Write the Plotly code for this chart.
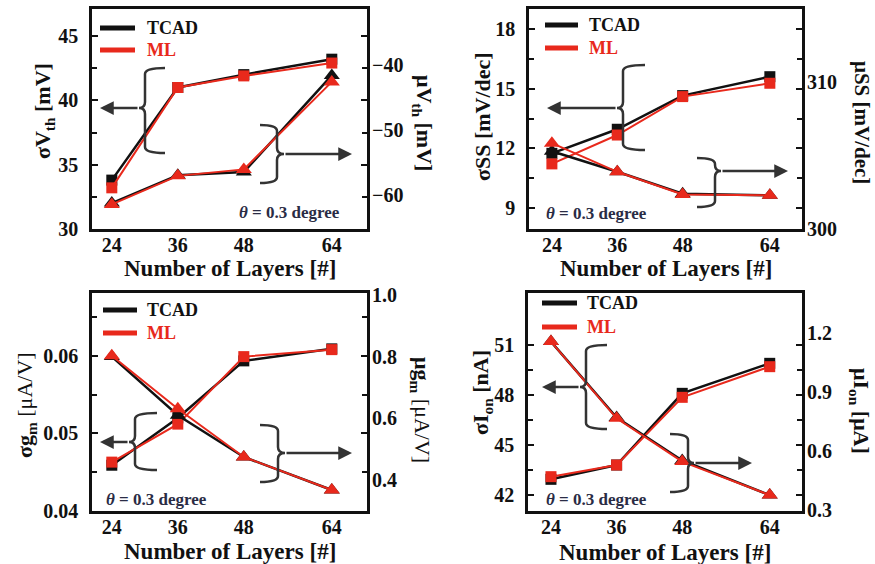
import plotly.graph_objects as go

W, H = 875, 564

# ---------------- data ----------------
layers = [24, 36, 48, 64]

# threshold voltage
vth_sigma_tcad = [33.8, 41.0, 42.0, 43.2]
vth_sigma_ml = [33.2, 41.0, 41.9, 42.9]
vth_mu_tcad = [-61.3, -57.0, -56.5, -41.6]
vth_mu_ml = [-61.5, -57.1, -56.1, -42.6]

# subthreshold swing
ss_sigma_tcad = [11.75, 12.96, 14.65, 15.6]
ss_sigma_ml = [11.22, 12.67, 14.6, 15.27]
ss_mu_tcad = [305.3, 303.9, 302.4, 302.3]
ss_mu_ml = [305.85, 303.9, 302.35, 302.3]

# transconductance
gm_sigma_tcad = [0.0459, 0.0520, 0.05935, 0.0609]
gm_sigma_ml = [0.0463, 0.0512, 0.0599, 0.0608]
gm_mu_tcad = [0.800, 0.610, 0.475, 0.368]
gm_mu_ml = [0.803, 0.631, 0.475, 0.368]

# on-current
ion_sigma_tcad = [42.94, 43.8, 48.1, 49.9]
ion_sigma_ml = [43.1, 43.8, 47.86, 49.7]
ion_mu_tcad = [1.156, 0.770, 0.552, 0.376]
ion_mu_ml = [1.156, 0.766, 0.546, 0.376]

x_ticks = [24, 36, 48, 64]

# tick values for the sigma (left) and mu (right) axes
vth_sigma_ticks = [30, 35, 40, 45]
vth_sigma_minor = [32.5, 37.5, 42.5]
vth_mu_ticks = [-60, -50, -40]
ss_sigma_ticks = [9, 12, 15, 18]
ss_sigma_minor = [10.5, 13.5, 16.5]
ss_mu_ticks = [300, 310]
gm_sigma_ticks = [0.04, 0.05, 0.06]
gm_sigma_minor = [0.045, 0.055, 0.065]
gm_mu_ticks = [0.4, 0.6, 0.8, 1.0]
ion_sigma_ticks = [42, 45, 48, 51]
ion_sigma_minor = [43.5, 46.5, 49.5]
ion_mu_ticks = [0.3, 0.6, 0.9, 1.2]

# ---------------- style ----------------
FONT = "Liberation Serif, Times New Roman, serif"
RED = "#e8291c"
BLACK = "#111111"
DARK = "#333333"
THETA_COLOR = "#2a2c45"


def px(x):
    return x / W


def py(y):
    return 1 - y / H


panels = [
    dict(box=(92, 9, 367, 229), xr=[20.4, 70.4],
         yl=[30, 47.1], yl_ticks=vth_sigma_ticks, yl_minor=vth_sigma_minor, yl_fmt="d",
         yr=[-65.3, -31.35], yr_vals=vth_mu_ticks, yr_fmt="d",
         s_tcad=vth_sigma_tcad, s_ml=vth_sigma_ml, m_tcad=vth_mu_tcad, m_ml=vth_mu_ml,
         ltitle="<b>σV<sub>th</sub> [mV]</b>", lpos=(44, 111),
         rtitle="<b>μV<sub>th</sub> [mV]</b>", rpos=(423, 123), rsize=22,
         xtitle_y=268, theta=(289, 212),
         legend=(100, 135, 28, 50, 145),
         braces=[("left", 145, 68, 153, 108, 165, 139, 100),
                 ("right", 277, 125, 183, 154, 260, 284, 352)]),
    dict(box=(529, 9, 802, 229), xr=[19.8, 69.9],
         yl=[7.95, 19.0], yl_ticks=ss_sigma_ticks, yl_minor=ss_sigma_minor, yl_fmt="d",
         yr=[300, 315.0], yr_vals=ss_mu_ticks, yr_fmt="d",
         s_tcad=ss_sigma_tcad, s_ml=ss_sigma_ml, m_tcad=ss_mu_tcad, m_ml=ss_mu_ml,
         ltitle="<b>σSS [mV/dec]</b>", lpos=(483, 117),
         rtitle="<b>μSS [mV/dec]</b>", rpos=(862, 122), rsize=21,
         xtitle_y=268, theta=(596, 214),
         legend=(545, 578, 25, 48, 587),
         braces=[("left", 623, 65, 150, 108, 645, 617, 547),
                 ("right", 715, 158, 207, 171, 697, 721, 788)]),
    dict(box=(92, 293, 367, 511), xr=[20.4, 70.4],
         yl=[0.04, 0.0681], yl_ticks=gm_sigma_ticks, yl_minor=gm_sigma_minor, yl_fmt=".2f",
         yr=[0.3, 1.006], yr_vals=gm_mu_ticks, yr_fmt=".1f",
         s_tcad=gm_sigma_tcad, s_ml=gm_sigma_ml, m_tcad=gm_mu_tcad, m_ml=gm_mu_ml,
         ltitle="<b>σg<sub>m</sub></b> [μA/V]", lpos=(26, 405),
         rtitle="<b>μg<sub>m</sub></b> [μA/V]", rpos=(421, 410), rsize=22,
         xtitle_y=551, theta=(156, 499),
         legend=(103, 137, 310, 333, 145),
         braces=[("left", 135, 413, 470, 442, 157, 129, 100),
                 ("right", 278, 425, 482, 453, 260, 285, 352)]),
    dict(box=(528, 293, 802, 511), xr=[19.8, 69.9],
         yl=[41.04, 54.12], yl_ticks=ion_sigma_ticks, yl_minor=ion_sigma_minor, yl_fmt="d",
         yr=[0.295, 1.403], yr_vals=ion_mu_ticks, yr_fmt=".1f",
         s_tcad=ion_sigma_tcad, s_ml=ion_sigma_ml, m_tcad=ion_mu_tcad, m_ml=ion_mu_ml,
         ltitle="<b>σI<sub>on</sub> [nA]</b>", lpos=(482, 392),
         rtitle="<b>μI<sub>on</sub> [μA]</b>", rpos=(860, 411), rsize=22,
         xtitle_y=552, theta=(596, 499),
         legend=(542, 577, 303, 327, 585),
         braces=[("left", 586, 345, 429, 387, 607, 580, 542),
                 ("right", 688, 434, 492, 463, 670, 694, 752)]),
]


def brace_path(kind, xv, yt, yb, ym, xs, xp, r=6):
    """Curly bracket in paper coordinates, built from pixel positions."""
    pts = [
        f"M{px(xs)},{py(yt)}",
        f"Q{px(xv)},{py(yt)} {px(xv)},{py(yt + r)}",
        f"L{px(xv)},{py(ym - r)}",
        f"Q{px(xv)},{py(ym)} {px(xp)},{py(ym)}",
        f"Q{px(xv)},{py(ym)} {px(xv)},{py(ym + r)}",
        f"L{px(xv)},{py(yb - r)}",
        f"Q{px(xv)},{py(yb)} {px(xs)},{py(yb)}",
    ]
    return " ".join(pts)


tickfont = dict(family=FONT, size=20, color=BLACK, weight="bold")

fig = go.Figure()
layout = dict(
    template="none",
    width=W, height=H, autosize=False,
    margin=dict(l=0, r=0, t=0, b=0, pad=0),
    paper_bgcolor="white", plot_bgcolor="white",
    showlegend=False,
    font=dict(family=FONT, size=20, color=BLACK, weight="bold"),
)
shapes = []
annotations = []

for i, p in enumerate(panels, start=1):
    x0, y0, x1, y1 = p["box"]
    xid = "x" if i == 1 else f"x{i}"
    ylid = "y" if i == 1 else f"y{i}"
    yrid = f"y{i + 4}"
    xkey = "xaxis" if i == 1 else f"xaxis{i}"
    ylkey = "yaxis" if i == 1 else f"yaxis{i}"
    yrkey = f"yaxis{i + 4}"

    layout[xkey] = dict(
        domain=[px(x0), px(x1)], range=p["xr"], anchor=ylid, automargin=False,
        tickmode="array", tickvals=x_ticks, ticks="", showgrid=False, zeroline=False,
        showline=True, linewidth=2.5, linecolor=BLACK, mirror=True,
        tickfont=tickfont, ticklabelstandoff=-4,
    )
    layout[ylkey] = dict(
        domain=[py(y1), py(y0)], range=p["yl"], anchor=xid, automargin=False,
        tickmode="array", tickvals=p["yl_ticks"], tickformat=p["yl_fmt"],
        ticks="inside", ticklen=6, tickwidth=2, tickcolor=BLACK,
        minor=dict(tickmode="array", tickvals=p["yl_minor"], ticks="inside",
                   ticklen=5, tickwidth=2, tickcolor=BLACK, showgrid=False),
        showgrid=False, zeroline=False,
        showline=True, linewidth=2.5, linecolor=BLACK, mirror="ticks",
        tickfont=tickfont, ticklabelstandoff=7,
    )
    layout[yrkey] = dict(
        overlaying=ylid, side="right", anchor=xid, range=p["yr"], automargin=False,
        tickmode="array", tickvals=p["yr_vals"], tickformat=p["yr_fmt"], ticks="",
        showgrid=False, zeroline=False, showline=False,
        tickfont=tickfont, ticklabelstandoff=4,
    )

    # reference (black) drawn beneath prediction (red)
    fig.add_trace(go.Scatter(
        x=layers, y=p["s_tcad"], xaxis=xid, yaxis=ylid, mode="lines+markers",
        line=dict(color=BLACK, width=2.5),
        marker=dict(symbol="square", size=11, color=BLACK), name="TCAD"))
    fig.add_trace(go.Scatter(
        x=layers, y=p["s_ml"], xaxis=xid, yaxis=ylid, mode="lines+markers",
        line=dict(color=RED, width=2),
        marker=dict(symbol="square", size=11, color=RED), name="ML"))
    fig.add_trace(go.Scatter(
        x=layers, y=p["m_tcad"], xaxis=xid, yaxis=yrid, mode="lines+markers",
        line=dict(color=BLACK, width=2.5),
        marker=dict(symbol="triangle-up", size=14, color=BLACK), name="TCAD"))
    fig.add_trace(go.Scatter(
        x=layers, y=p["m_ml"], xaxis=xid, yaxis=yrid, mode="lines+markers",
        line=dict(color=RED, width=2),
        marker=dict(symbol="triangle-up", size=14, color=RED), name="ML"))

    # legend keys
    lx0, lx1, ly_t, ly_m, ltx = p["legend"]
    for yy, col, label in [(ly_t, BLACK, "TCAD"), (ly_m, RED, "ML")]:
        shapes.append(dict(type="line", xref="paper", yref="paper",
                           x0=px(lx0), x1=px(lx1), y0=py(yy), y1=py(yy),
                           line=dict(color=col, width=5)))
        annotations.append(dict(xref="paper", yref="paper", x=px(ltx), y=py(yy),
                                xanchor="left", yanchor="middle", showarrow=False,
                                text=label,
                                font=dict(family=FONT, size=18, color=col, weight="bold")))

    # axis titles
    annotations.append(dict(xref="paper", yref="paper",
                            x=px((x0 + x1) / 2), y=py(p["xtitle_y"]),
                            xanchor="center", yanchor="middle", showarrow=False,
                            text="Number of Layers [#]",
                            font=dict(family=FONT, size=23, color=BLACK, weight="bold")))
    annotations.append(dict(xref="paper", yref="paper",
                            x=px(p["lpos"][0]), y=py(p["lpos"][1]),
                            xanchor="center", yanchor="middle", showarrow=False,
                            textangle=-90, text=p["ltitle"],
                            font=dict(family=FONT, size=22, color=BLACK, weight="normal")))
    annotations.append(dict(xref="paper", yref="paper",
                            x=px(p["rpos"][0]), y=py(p["rpos"][1]),
                            xanchor="center", yanchor="middle", showarrow=False,
                            textangle=90, text=p["rtitle"],
                            font=dict(family=FONT, size=p["rsize"], color=BLACK,
                                      weight="normal")))

    # angle note
    annotations.append(dict(xref="paper", yref="paper",
                            x=px(p["theta"][0]), y=py(p["theta"][1]),
                            xanchor="center", yanchor="middle", showarrow=False,
                            text="<i>θ</i> = 0.3 degree",
                            font=dict(family=FONT, size=17, color=THETA_COLOR, weight="bold")))

    # brackets grouping each curve with its axis, plus arrows
    for kind, xv, yt, yb, ym, xs, xp, xa in p["braces"]:
        shapes.append(dict(type="path", xref="paper", yref="paper",
                           path=brace_path(kind, xv, yt, yb, ym, xs, xp),
                           line=dict(color=DARK, width=2.5)))
        annotations.append(dict(xref="paper", yref="paper", x=px(xa), y=py(ym),
                                ax=xp - xa, ay=0, axref="pixel", ayref="pixel",
                                text="", showarrow=True, arrowhead=2, arrowsize=1.1,
                                arrowwidth=2.5, arrowcolor=DARK, standoff=0))

layout["shapes"] = shapes
layout["annotations"] = annotations
fig.update_layout(**layout)

fig.write_html("out.html")
